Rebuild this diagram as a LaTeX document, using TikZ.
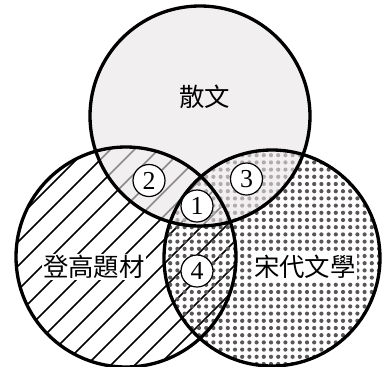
\documentclass[tikz,border=0pt]{standalone}
\usepackage{fontspec}
\newfontfamily\cjk{Noto Sans CJK TC}
\newfontfamily\digitfont{Liberation Serif}
\definecolor{prosegray}{HTML}{EAE4E6}
\definecolor{dotgray}{HTML}{5A5557}
\tikzset{
  setline/.style={line width=3.3bp},
  hatchline/.style={line width=1.5bp},
  setname/.style={font=\cjk\fontsize{25.5}{25.5}\selectfont,inner sep=1.5bp},
  regionmark/.style={circle,draw,line width=1.2bp,fill=white,inner sep=0pt,
    minimum size=32bp,font=\digitfont\fontsize{26}{26}\selectfont},
}
\begin{document}
\begin{tikzpicture}[x=1bp,y=-1bp]
    \useasboundingbox (0,0) rectangle (384,367);
    % Circle centres
    \coordinate (prose) at (200,116);
    \coordinate (climb) at (126,257);
    \coordinate (song) at (272,258);
    % Hatching of the left set
    \begin{scope}
      \clip (climb) circle (110);
      \foreach \c in {140,164,...,570}
        \draw[hatchline] (\c-400,400) -- (\c,0);
    \end{scope}
    % Dots of the right set
    \begin{scope}
      \clip (song) circle (108);
      \foreach \dx in {0,...,30}
        \foreach \dy in {0,...,30}
          \fill[dotgray] (163+7.2*\dx,148+7.2*\dy) circle (2.1);
    \end{scope}
    % Top set, lightly over the others
    \fill[prosegray,opacity=0.6] (prose) circle (110);
    % Outlines
    \draw[setline] (prose) circle (110);
    \draw[setline] (climb) circle (110);
    \draw[setline] (song) circle (108);
    % Set names
    \node[setname] (proseName) at (205,97) {散文};
    \node[setname,fill=white] (climbName) at (94,267) {登高題材};
    \node[setname,fill=white] (songName) at (305,267) {宋代文學};
    % Region numbers
    \node[regionmark] (r1) at (197,206) {1};
    \node[regionmark] (r2) at (149,180.5) {2};
    \node[regionmark] (r3) at (246.5,179) {3};
    \node[regionmark] (r4) at (197,271) {4};
\end{tikzpicture}
\end{document}
